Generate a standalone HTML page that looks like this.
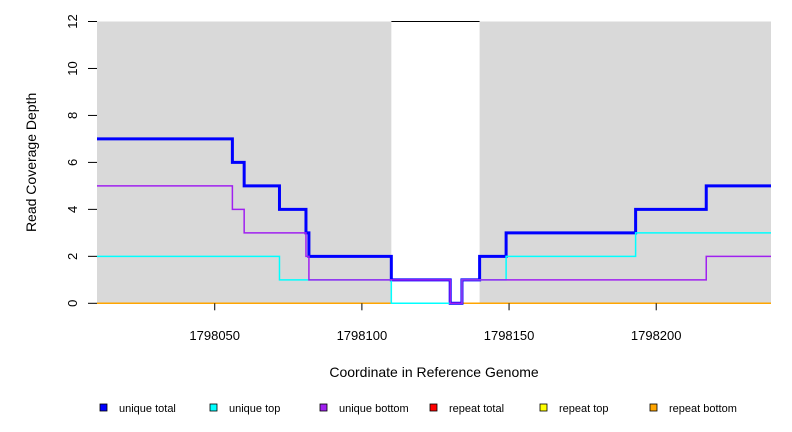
<!DOCTYPE html>
<html><head><meta charset="utf-8"><style>
body{margin:0;background:#fff;}
svg{display:block;font-family:"Liberation Sans",Arial,sans-serif;}
</style></head><body>
<svg id="chart" width="792" height="432"></svg>
<script>
const xDomain=[1798010,1798239];
const yTicks=[0,2,4,6,8,10,12];
const xTicks=[1798050,1798100,1798150,1798200];
const uniqueRegions=[[1798010,1798110],[1798140,1798239]];
const totalBreaks=[1798010,1798056,1798060,1798072,1798081,1798082,1798110,1798130,1798134,1798140,1798149,1798193,1798217,1798239];
const totalValues=[7,6,5,4,3,2,1,0,1,2,3,4,5];
const topBreaks=[1798010,1798072,1798110,1798134,1798149,1798193,1798239];
const topValues=[2,1,0,1,2,3];
const bottomBreaks=[1798010,1798056,1798060,1798081,1798082,1798130,1798134,1798217,1798239];
const bottomValues=[5,4,3,2,1,0,1,2];
const legendLabels=["unique total","unique top","unique bottom","repeat total","repeat top","repeat bottom"];
const legendColors=["#0000ff","#00ffff","#a020f0","#ff0000","#ffff00","#ffa500"];

const NS="http://www.w3.org/2000/svg";
const svg=document.getElementById('chart');
const L=97,R=771,T=21.5,B=303.3;
const xs=v=>L+(v-xDomain[0])/(xDomain[1]-xDomain[0])*(R-L);
const ys=v=>B-v/12*(B-T);
function mk(tag,attrs,parent){const e=document.createElementNS(NS,tag);for(const k in attrs)e.setAttribute(k,attrs[k]);(parent||svg).appendChild(e);return e;}

const gapLine=mk('line',{x1:xs(uniqueRegions[0][1]),x2:xs(uniqueRegions[1][0]),y1:ys(12),y2:ys(12),stroke:'#000','stroke-width':1});


uniqueRegions.forEach((r,i)=>{
  const rc=mk('rect',{x:xs(r[0]),y:ys(12),width:xs(r[1])-xs(r[0]),height:ys(0)-ys(12),fill:'#d9d9d9'});
  
  
});

function stepPath(br,vals){
  let d='M'+xs(br[0])+' '+ys(vals[0]);
  for(let i=0;i<vals.length;i++){
    d+=' L'+xs(br[i+1])+' '+ys(vals[i]);
    if(i+1<vals.length)d+=' L'+xs(br[i+1])+' '+ys(vals[i+1]);
  }
  return d;
}
const p4=mk('line',{x1:L,x2:R,y1:ys(0),y2:ys(0),stroke:'#ffa500','stroke-width':1.5});


const p1=mk('path',{d:stepPath(totalBreaks,totalValues),fill:'none',stroke:'#0000ff','stroke-width':3});


const p2=mk('path',{d:stepPath(topBreaks,topValues),fill:'none',stroke:'#00ffff','stroke-width':1.5});


const p3=mk('path',{d:stepPath(bottomBreaks,bottomValues),fill:'none',stroke:'#a020f0','stroke-width':1.5});



yTicks.forEach(t=>{
  const tl=mk('line',{x1:88,x2:L,y1:ys(t),y2:ys(t),stroke:'#000','stroke-width':1});
  
  
  const tx=mk('text',{x:0,y:0,'font-size':13,'text-anchor':'middle',transform:`translate(77,${ys(t)}) rotate(-90)`});
  tx.textContent=t;
  
  
});
const yt=mk('text',{x:0,y:0,'font-size':14,'text-anchor':'middle',transform:`translate(36,${(T+B)/2}) rotate(-90)`});
yt.textContent='Read Coverage Depth';



xTicks.forEach(t=>{
  const tl=mk('line',{x1:xs(t),x2:xs(t),y1:B,y2:B+7,stroke:'#000','stroke-width':1});
  
  
  const tx=mk('text',{x:xs(t),y:340,'font-size':13,'text-anchor':'middle'});
  tx.textContent=t;
  
  
});
const xt=mk('text',{x:434,y:377,'font-size':14,'text-anchor':'middle'});
xt.textContent='Coordinate in Reference Genome';



legendLabels.forEach((lab,i)=>{
  const x0=100+i*110;
  const g=mk('g',{});
  
  
  mk('rect',{x:x0,y:404,width:7,height:7,fill:legendColors[i],stroke:'#000','stroke-width':0.8},g);
  const tx=mk('text',{x:x0+19,y:412,'font-size':11},g);
  tx.textContent=lab;
});
</script>
</body></html>
